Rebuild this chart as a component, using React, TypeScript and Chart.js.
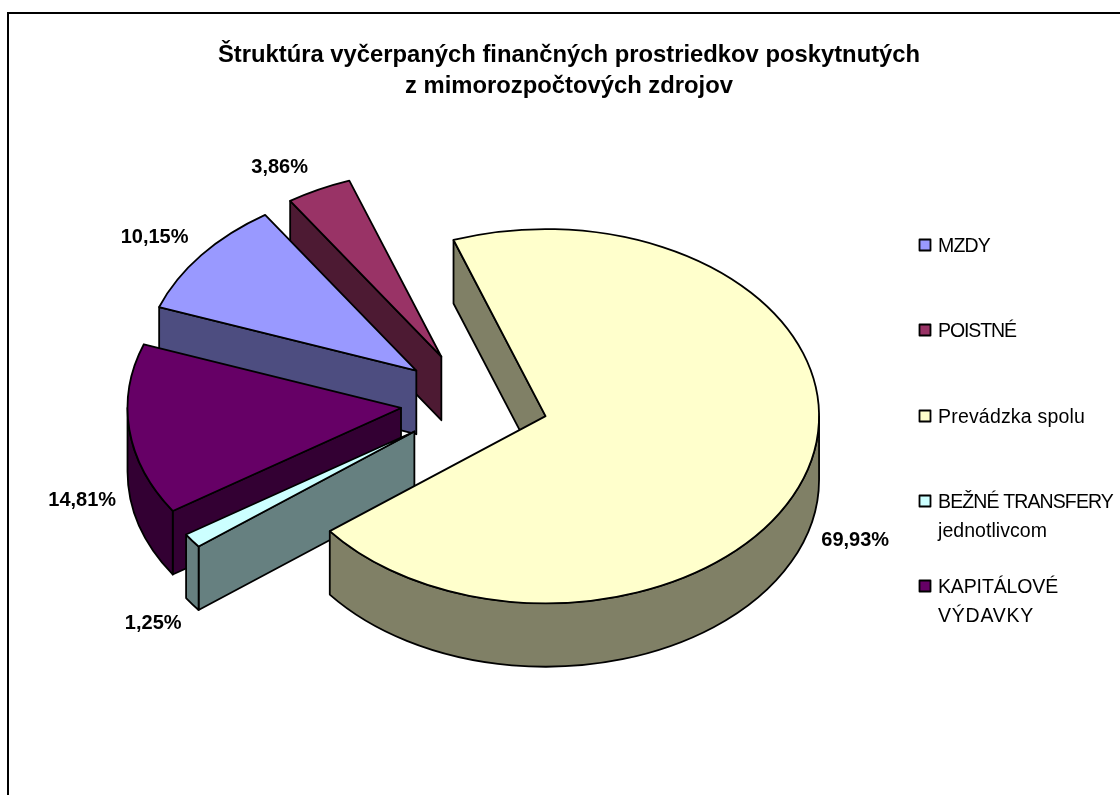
import React, { useEffect, useRef } from "react";
import { Chart, registerables } from "chart.js";

Chart.register(...registerables);

const titleLines = [
  "Štruktúra vyčerpaných finančných prostriedkov poskytnutých",
  "z mimorozpočtových zdrojov",
];
const categories = ["MZDY", "POISTNÉ", "Prevádzka spolu", "BEŽNÉ TRANSFERY", "KAPITÁLOVÉ"];
const legendLines = [["MZDY"], ["POISTNÉ"], ["Prevádzka spolu"], ["BEŽNÉ TRANSFERY", "jednotlivcom"], ["KAPITÁLOVÉ", "VÝDAVKY"]];
const values = [10.15, 3.86, 69.93, 1.25, 14.81];
const topColors = ["#9999FF", "#993366", "#FFFFCC", "#CCFFFF", "#660066"];
const sideColors = ["#4D4D80", "#4D1A33", "#808066", "#668080", "#330033"];

// Presentation settings of the 3D pie
const FONT = "'Liberation Sans', Arial, sans-serif";
const drawOrder = [1, 0, 4, 3, 2];
const rotationDeg = -70.1;
const pieRadius = 273.5;
const tilt = 0.684;
const explode = 74;
const depth = 63.5;
const pieCentre = { x: 474.5, y: 402 };
const labelNudges = [[-46.7, -17.7], [-39.2, -22], [47, 72], [-39, 83.3], [-47.2, 70.9]];
const legendBaselines = [252, 337, 423, 508, 593];
const legendLineGap = 28.5;
const legendWidths = [[52], [78], [147], [175, 109], [120, 96]];

const pie3d = {
  id: "pie3d",
  beforeDraw(chart: any) {
    const { ctx } = chart;
    ctx.save();
    ctx.fillStyle = "#fff";
    ctx.fillRect(0, 0, chart.width, chart.height);
    ctx.strokeStyle = "#000";
    ctx.lineWidth = 2;
    ctx.beginPath();
    ctx.moveTo(8, chart.height);
    ctx.lineTo(8, 13);
    ctx.lineTo(chart.width, 13);
    ctx.stroke();
    ctx.restore();
  },
  beforeDatasetDraw(chart: any, args: any) {
    const { ctx } = chart;
    const meta = chart.getDatasetMeta(args.index);
    const geometry = meta.data.map((arc: any) => {
      const mid = (arc.startAngle + arc.endAngle) / 2;
      return {
        ax: pieCentre.x + Math.cos(mid) * explode,
        ay: pieCentre.y + Math.sin(mid) * explode * tilt,
        rx: arc.outerRadius,
        ry: arc.outerRadius * tilt,
        a1: arc.startAngle,
        a2: arc.endAngle,
        mid,
      };
    });

    ctx.save();
    ctx.lineWidth = 1.8;
    ctx.lineJoin = "round";
    ctx.strokeStyle = "#000";

    const wall = (g: any, a: number) => {
      const px = g.ax + Math.cos(a) * g.rx;
      const py = g.ay + Math.sin(a) * g.ry;
      ctx.beginPath();
      ctx.moveTo(g.ax, g.ay);
      ctx.lineTo(px, py);
      ctx.lineTo(px, py + depth);
      ctx.lineTo(g.ax, g.ay + depth);
      ctx.closePath();
      ctx.fill();
      ctx.stroke();
    };
    const rim = (g: any) => {
      const TAU = Math.PI * 2;
      let a1 = g.a1 % TAU;
      if (a1 < 0) a1 += TAU;
      const a2 = a1 + (g.a2 - g.a1);
      for (const [lo, hi] of [[0, Math.PI], [TAU, TAU + Math.PI]]) {
        const s = Math.max(a1, lo);
        const e = Math.min(a2, hi);
        if (e <= s) continue;
        ctx.beginPath();
        ctx.ellipse(g.ax, g.ay, g.rx, g.ry, 0, s, e);
        ctx.ellipse(g.ax, g.ay + depth, g.rx, g.ry, 0, e, s, true);
        ctx.closePath();
        ctx.fill();
        ctx.stroke();
      }
    };

    for (const i of drawOrder) {
      const g = geometry[i];
      const arc = meta.data[i];
      ctx.fillStyle = sideColors[i];
      if (Math.cos(g.a1) < 0) wall(g, g.a1);
      if (Math.cos(g.a2) > 0) wall(g, g.a2);
      rim(g);

      // top face: the library's own arc element, squashed into the tilt
      ctx.save();
      ctx.translate(g.ax, g.ay);
      ctx.scale(1, tilt);
      ctx.translate(-arc.x, -arc.y);
      arc.draw(ctx);
      ctx.restore();

      ctx.beginPath();
      ctx.moveTo(g.ax, g.ay);
      ctx.ellipse(g.ax, g.ay, g.rx, g.ry, 0, g.a1, g.a2);
      ctx.closePath();
      ctx.stroke();
    }

    // data labels
    ctx.fillStyle = "#000";
    ctx.font = `bold 20px ${FONT}`;
    ctx.textAlign = "center";
    ctx.textBaseline = "middle";
    geometry.forEach((g: any, i: number) => {
      const x = g.ax + Math.cos(g.mid) * g.rx + labelNudges[i][0];
      const y = g.ay + Math.sin(g.mid) * g.ry + labelNudges[i][1];
      ctx.fillText(values[i].toFixed(2).replace(".", ",") + "%", x, y);
    });

    // legend
    ctx.font = `19.5px ${FONT}`;
    ctx.textAlign = "left";
    ctx.textBaseline = "alphabetic";
    legendLines.forEach((lines, i) => {
      const base = legendBaselines[i];
      ctx.fillStyle = topColors[i];
      ctx.fillRect(919.5, base - 12.5, 11, 11);
      ctx.strokeStyle = "#000";
      ctx.lineWidth = 1.8;
      ctx.strokeRect(919.5, base - 12.5, 11, 11);
      ctx.fillStyle = "#000";
      lines.forEach((t, j) => {
        ctx.letterSpacing = "0px";
        const natural = ctx.measureText(t).width;
        ctx.letterSpacing = `${(legendWidths[i][j] - natural) / t.length}px`;
        ctx.fillText(t, 938, base + j * legendLineGap);
      });
      ctx.letterSpacing = "0px";
    });

    ctx.restore();
    return false;
  },
};

export default function App() {
  const ref = useRef<HTMLCanvasElement>(null);
  useEffect(() => {
    const chart = new Chart(ref.current as HTMLCanvasElement, {
      type: "pie",
      data: {
        labels: categories,
        datasets: [
          {
            data: values,
            backgroundColor: topColors,
            borderWidth: 0,
            radius: pieRadius,
          } as any,
        ],
      },
      options: {
        responsive: false,
        animation: false,
        rotation: rotationDeg,
        layout: { padding: { left: 18, right: 0, top: 0, bottom: 0 } },
        plugins: {
          legend: { display: false },
          tooltip: { enabled: false },
          title: {
            display: true,
            text: titleLines,
            color: "#000",
            font: { family: FONT, size: 23.8, weight: "bold", lineHeight: 1.3025 },
            padding: { top: 40, bottom: 0 },
          },
        },
      },
      plugins: [pie3d],
    } as any);
    return () => chart.destroy();
  }, []);
  return (
    <canvas
      ref={ref}
      width={1120}
      height={795}
      style={{ position: "absolute", left: 0, top: 0, display: "block" }}
    />
  );
}
